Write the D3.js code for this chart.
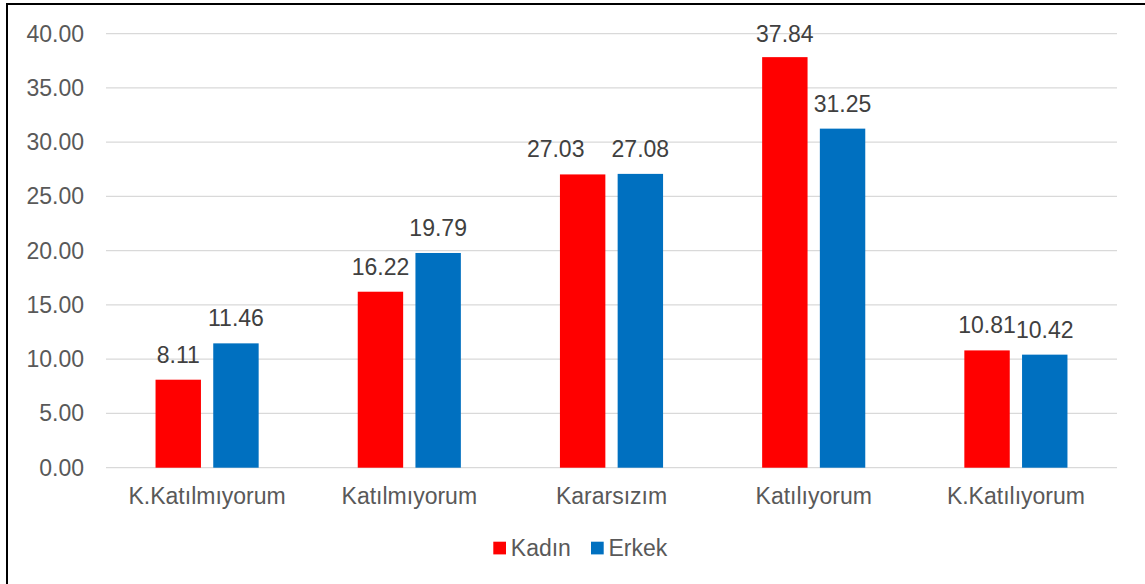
<!DOCTYPE html>
<html>
<head>
<meta charset="utf-8">
<script src="https://cdn.jsdelivr.net/npm/d3@7"></script>
<style>
  html, body { margin: 0; padding: 0; background: #fff; }
  svg { display: block; font-family: "Liberation Sans", Arial, sans-serif; }
</style>
</head>
<body>
<svg id="chart" width="1145" height="584"></svg>
<script>
// Response distribution by gender (percent)
const categories = ["K.Katılmıyorum", "Katılmıyorum", "Kararsızım", "Katılıyorum", "K.Katılıyorum"];
const seriesNames = ["Kadın", "Erkek"];
const kadin = [8.11, 16.22, 27.03, 37.84, 10.81];
const erkek = [11.46, 19.79, 27.08, 31.25, 10.42];
const yTicks = [0, 5, 10, 15, 20, 25, 30, 35, 40];
const colors = ["#FF0000", "#0070C0"];

const svg = d3.select("#chart");
const W = 1145, H = 584;

// Outer frame
svg.append("rect")
  .attr("x", 7).attr("y", 4)
  .attr("width", W + 20).attr("height", H + 20)
  .attr("fill", "none").attr("stroke", "#000").attr("stroke-width", 2);

const plot = { left: 106, right: 1117, top: 33.7, bottom: 467.7 };

const y = d3.scaleLinear().domain([0, 40]).range([plot.bottom, plot.top]);
const x0 = d3.scaleBand().domain(categories).range([plot.left, plot.right])
  .paddingInner(0.49).paddingOuter(0.245);
const x1 = d3.scaleBand().domain(seriesNames).range([0, x0.bandwidth()])
  .paddingInner(0.213).paddingOuter(0);

// Gridlines
svg.append("g")
  .selectAll("line").data(yTicks).join("line")
  .attr("x1", plot.left).attr("x2", plot.right)
  .attr("y1", d => y(d)).attr("y2", d => y(d))
  .attr("stroke", "#D9D9D9").attr("stroke-width", 1.3);

// Y axis labels
const yAxis = d3.axisLeft(y).tickValues(yTicks).tickFormat(d3.format(".2f")).tickSize(0).tickPadding(0);
const yg = svg.append("g").attr("transform", `translate(84,0)`).call(yAxis);
yg.select(".domain").remove();
yg.selectAll("text")
  .attr("font-size", 23).attr("fill", "#595959")
  .attr("font-family", "'Liberation Sans', Arial, sans-serif");

// X axis labels
const xAxis = d3.axisBottom(d3.scaleBand().domain(categories).range([plot.left, plot.right])).tickSize(0).tickPadding(0);
const xg = svg.append("g").attr("transform", `translate(0,${plot.bottom + 20})`).call(xAxis);
xg.select(".domain").remove();
xg.selectAll("text")
  .attr("font-size", 23).attr("fill", "#595959")
  .attr("font-family", "'Liberation Sans', Arial, sans-serif");

// Bars and value labels
const rows = categories.map((c, i) => ({ cat: c, i, vals: [kadin[i], erkek[i]] }));
const groups = svg.append("g").selectAll("g").data(rows).join("g")
  .attr("transform", d => `translate(${x0(d.cat)},0)`);

groups.selectAll("rect")
  .data(d => d.vals.map((v, j) => ({ name: seriesNames[j], v, j })))
  .join("rect")
  .attr("x", d => x1(d.name))
  .attr("y", d => y(d.v))
  .attr("width", x1.bandwidth())
  .attr("height", d => y(0) - y(d.v))
  .attr("fill", d => colors[d.j]);

// Hand-placed label nudges so neighbouring labels don't collide
const nudge = (i, j) => {
  if (i === 2 && j === 0) return { dx: -27, dy: 0 };
  if (i === 3 && j === 0) return { dx: 0, dy: 1.5 };
  return { dx: 0, dy: 0 };
};

groups.selectAll("text.val")
  .data(d => d.vals.map((v, j) => ({ name: seriesNames[j], v, j, i: d.i })))
  .join("text")
  .attr("class", "val")
  .attr("x", d => x1(d.name) + x1.bandwidth() / 2 + nudge(d.i, d.j).dx)
  .attr("y", d => y(d.v) - 17 + nudge(d.i, d.j).dy)
  .attr("text-anchor", "middle")
  .attr("font-size", 23)
  .attr("fill", "#404040")
  .text(d => d.v.toFixed(2));

// Legend
const legend = svg.append("g");
const legendX = [493.3, 591];
seriesNames.forEach((n, j) => {
  legend.append("rect")
    .attr("x", legendX[j]).attr("y", 541.7)
    .attr("width", 12.7).attr("height", 12.7)
    .attr("fill", colors[j]);
  legend.append("text")
    .attr("x", legendX[j] + 17.5).attr("y", 555.7)
    .attr("font-size", 23).attr("fill", "#595959")
    .text(n);
});
</script>
</body>
</html>
